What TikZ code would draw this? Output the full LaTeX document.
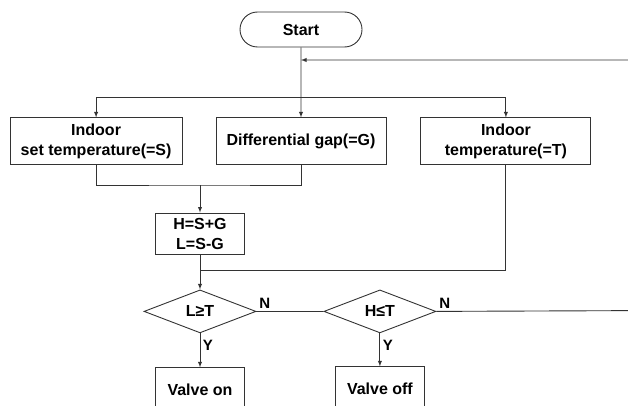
\documentclass[tikz,border=0pt]{standalone}
\usepackage{fontspec}
\setmainfont{Liberation Sans}
\usetikzlibrary{shapes,arrows,positioning}

\begin{document}
\begin{tikzpicture}[x=1pt, y=1pt, color=black!80, line width=0.9pt,
        font=\fontsize{16}{20}\selectfont\bfseries,
        every node/.style={text=black},
        startbox/.style={rounded rectangle, draw, minimum width=122pt, minimum height=35pt, inner sep=0pt},
        procbox/.style={rectangle, draw, align=center, minimum width=170pt, minimum height=47pt, inner sep=0pt},
        decision/.style={diamond, draw, aspect=2.6, minimum width=112pt, minimum height=43pt, inner sep=0pt},
        lbl/.style={font=\fontsize{15}{16}\selectfont\bfseries, inner sep=2.5pt},
        arrow/.style={->, >=latex}]

        \useasboundingbox (0,0) rectangle (628,405);
        \clip (0,0) rectangle (628,405);

        % start and the three inputs
        \node[startbox] (start) at (301,375.5) {Start};
        \node[procbox, below=70pt of start] (gap) {Differential gap(=G)};
        \node[procbox, minimum width=172pt, left=33pt of gap] (setT) {Indoor\\ set temperature(=S)};
        \node[procbox, right=34pt of gap] (inT) {Indoor\\temperature(=T)};

        % limits
        \node[procbox, minimum width=89pt, minimum height=41pt] (calc) at (200,171.5) {H=S+G\\L=S-G};

        % checks
        \node[decision, below=35pt of calc] (lowchk) {L≥T};
        \node[decision, right=67pt of lowchk] (highchk) {H≤T};
        \node[procbox, minimum width=89pt, minimum height=44pt, below=34pt of lowchk] (von) {Valve on};
        \node[procbox, minimum width=89pt, minimum height=44pt, below=33pt of highchk] (voff) {Valve off};

        \coordinate (loop) at (301,345);
        \coordinate (split) at (301,308);
        \coordinate (join) at (200,220);
        \coordinate (merge) at (200,135);
        \coordinate (outer) at (660,94.5);

        \draw[arrow] (start) -- (gap);
        \draw[arrow] (split) -| (setT);
        \draw[arrow] (split) -| (inT);
        \draw (setT) |- (join) -| (gap);
        \draw[arrow] (join) -- (calc);
        \draw[arrow] (calc) -- (lowchk);
        \draw (inT) |- (merge);
        \draw (lowchk.east) -- node[lbl, at start, above right] {N} (highchk.west);
        \draw[arrow] (highchk.east) -- node[lbl, at start, above right] {N} (outer) |- (loop);
        \draw[arrow] (lowchk) -- node[lbl, pos=0.35, right] {Y} (von);
        \draw[arrow] (highchk) -- node[lbl, pos=0.35, right] {Y} (voff);
\end{tikzpicture}
\end{document}
